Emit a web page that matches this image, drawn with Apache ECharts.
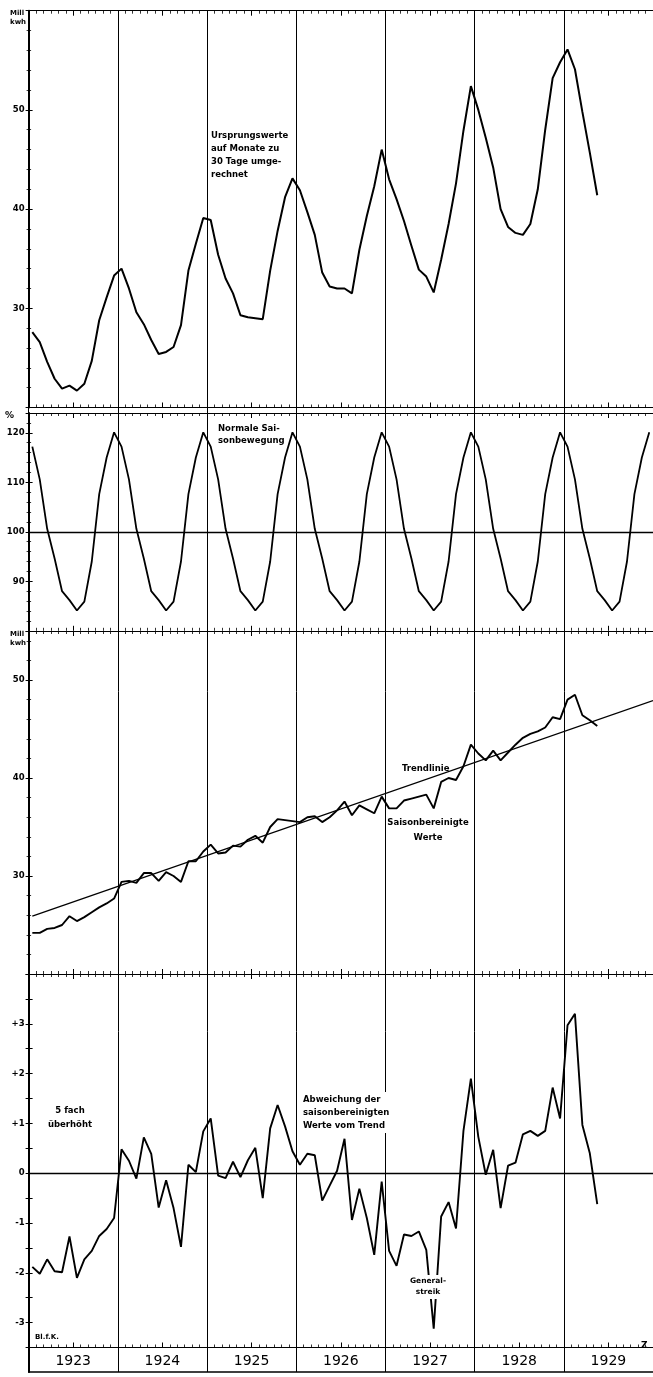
<!DOCTYPE html>
<html><head><meta charset="utf-8">
<script src="https://cdn.jsdelivr.net/npm/echarts@6/dist/echarts.min.js"></script>
<style>html,body{margin:0;padding:0;background:#fff}#c{width:653px;height:1377px}</style>
</head><body><div id="c"></div>
<script>
// ---- DATA (monthly, Jan 1923 = month 0) ----
const years = ['1923','1924','1925','1926','1927','1928','1929'];

// Panel 1: Ursprungswerte (Mill kwh, Monate zu 30 Tagen)
const originalValues = [
  27.6, 26.6, 24.6, 22.9, 21.9, 22.2, 21.7, 22.4, 24.7, 28.8, 31.1, 33.3,
  34.0, 32.0, 29.6, 28.4, 26.8, 25.4, 25.6, 26.1, 28.3, 33.8, 36.5, 39.1,
  38.9, 35.4, 33.0, 31.5, 29.3, 29.1, 29.0, 28.9, 33.8, 37.8, 41.2, 43.1,
  41.9, 39.7, 37.4, 33.6, 32.2, 32.0, 32.0, 31.5, 35.9, 39.3, 42.3, 46.0,
  43.0, 41.0, 38.8, 36.3, 33.9, 33.2, 31.6, 34.9, 38.5, 42.6, 47.9, 52.4,
  50.0, 47.2, 44.2, 40.0, 38.2, 37.6, 37.4, 38.5, 42.0, 48.0, 53.2, 54.8,
  56.1, 54.1, 49.8, 45.7, 41.4
];

// Panel 2: Normale Saisonbewegung (%), Jan..Dec
const seasonalFactors = [117.2, 110.6, 100.6, 94.6, 88.0, 86.2, 84.1, 85.9, 94.0, 107.6, 115.0, 120.1];

// Panel 3: Saisonbereinigte Werte (Mill kwh)
const adjustedValues = [
  24.2, 24.2, 24.6, 24.7, 25.0, 25.9, 25.4, 25.8, 26.3, 26.8, 27.2, 27.7,
  29.4, 29.5, 29.3, 30.3, 30.3, 29.5, 30.4, 30.0, 29.4, 31.5, 31.5, 32.5,
  33.2, 32.3, 32.4, 33.1, 33.0, 33.7, 34.1, 33.4, 35.0, 35.8, 35.7, 35.6,
  35.5, 36.0, 36.1, 35.5, 36.0, 36.7, 37.6, 36.2, 37.2, 36.8, 36.4, 38.1,
  36.9, 36.9, 37.7, 37.9, 38.1, 38.3, 36.9, 39.6, 40.0, 39.8, 41.2, 43.4,
  42.5, 41.8, 42.8, 41.8, 42.6, 43.4, 44.1, 44.5, 44.75, 45.15, 46.2, 46.0,
  48.0, 48.5, 46.4, 45.9, 45.3
];

// Trendlinie: start and end (month, value)
const trendMonths = [0.5, 84];
const trendValues = [25.9, 47.9];

// Panel 4: Abweichung der saisonbereinigten Werte vom Trend (5fach überhöht)
const deviationValues = [
  -1.88, -2.02, -1.73, -1.97, -1.99, -1.27, -2.10, -1.73, -1.56, -1.26, -1.12, -0.90,
  0.48, 0.25, -0.11, 0.72, 0.39, -0.69, -0.14, -0.70, -1.48, 0.17, 0.02, 0.84,
  1.10, -0.05, -0.10, 0.23, -0.08, 0.26, 0.51, -0.50, 0.90, 1.37, 0.94, 0.44,
  0.17, 0.39, 0.36, -0.55, -0.25, 0.05, 0.69, -0.94, -0.31, -0.90, -1.64, -0.17,
  -1.56, -1.86, -1.23, -1.26, -1.17, -1.54, -3.12, -0.87, -0.58, -1.11, 0.85, 1.90,
  0.73, -0.03, 0.47, -0.70, 0.15, 0.21, 0.78, 0.85, 0.75, 0.85, 1.72, 1.10,
  2.97, 3.20, 0.97, 0.40, -0.62
];

// Tick labels
const ticks1 = [30, 40, 50];
const ticks2 = [90, 100, 110, 120];
const ticks3 = [30, 40, 50];
const ticks4 = [-3, -2, -1, 0, 1, 2, 3];

// ---- BUILD ----
const toPts = arr => arr.map((v, i) => [i + 0.5, v]);
const seasonalSeries = [];
years.forEach((y, yi) => seasonalFactors.forEach((v, m) => seasonalSeries.push([yi * 12 + m + 0.5, v])));
const trendSeries = trendMonths.map((m, i) => [m, trendValues[i]]);

const FONT = 'DejaVu Sans';
const L = 28.6, R = -2.1;
const grids = [
  {left: L, right: R, top: 10.7, height: 396.8},
  {left: L, right: R, top: 413, height: 217.8},
  {left: L, right: R, top: 631, height: 343},
  {left: L, right: R, top: 974, height: 373.5},
  {left: L, right: R, top: 1347.5, height: 24.5},
  {left: L, right: R, top: 10.7, height: 1361.3}
];

function monthAxis(gi, pos) {
  return {type: 'value', gridIndex: gi, position: pos, min: 0, max: 84, interval: 6,
    axisLine: {show: true, onZero: false, lineStyle: {color: '#000', width: 1.2}},
    axisTick: {show: true, inside: true, length: 5, lineStyle: {color: '#000', width: 1}},
    minorTick: {show: true, splitNumber: 6, length: 3, lineStyle: {color: '#000', width: 0.8}},
    axisLabel: {show: false}, splitLine: {show: false}};
}
function fmt4(v) { return v > 0 ? '+' + v : (v < 0 ? '-' + Math.abs(v) : '0'); }
function valAxis(gi, min, max, interval, labels, minorSplit, f) {
  return {type: 'value', gridIndex: gi, position: 'left', min, max, interval,
    axisLine: {show: true, onZero: false, lineStyle: {color: '#000', width: 2}},
    axisTick: {show: true, inside: true, length: 4, lineStyle: {color: '#000', width: 1}},
    minorTick: {show: !!minorSplit, splitNumber: minorSplit || 2, length: 2.5, lineStyle: {color: '#000', width: 0.8}},
    splitLine: {show: false},
    axisLabel: {show: true, margin: 4, color: '#000', fontFamily: FONT, fontWeight: 'bold', fontSize: 8.5,
      formatter: v => labels.some(l => Math.abs(l - v) < 1e-6) ? (f ? f(Math.round(v)) : String(Math.round(v))) : ''}};
}
function rightAxis(gi, min, max, interval, minorSplit) {
  return {type: 'value', gridIndex: gi, position: 'right', min, max, interval,
    axisLine: {show: false}, axisLabel: {show: false}, splitLine: {show: false},
    axisTick: {show: true, inside: true, length: 3, lineStyle: {color: '#000', width: 1}},
    minorTick: {show: !!minorSplit, splitNumber: minorSplit || 2, length: 2, lineStyle: {color: '#000', width: 0.8}}};
}

const xAxes = [
  monthAxis(0, 'bottom'), monthAxis(0, 'top'),
  monthAxis(1, 'bottom'), monthAxis(1, 'top'),
  monthAxis(2, 'bottom'), monthAxis(2, 'top'),
  monthAxis(3, 'bottom'), monthAxis(3, 'top'),
  {type: 'category', gridIndex: 4, data: years, boundaryGap: true, position: 'bottom',
    axisLine: {show: true, lineStyle: {color: '#000', width: 1.5}}, axisTick: {show: false},
    axisLabel: {inside: true, margin: 4, color: '#000', fontSize: 14, fontFamily: FONT}, splitLine: {show: false}},
  {type: 'value', gridIndex: 5, min: 0, max: 84, interval: 12, axisLine: {show: false}, axisTick: {show: false},
    axisLabel: {show: false}, splitLine: {show: true, lineStyle: {color: '#000', width: 1}}}
];
const yAxes = [
  valAxis(0, 20, 60, 10, ticks1, 5), rightAxis(0, 20, 60, 10, 5),
  valAxis(1, 80, 124, 10, ticks2, 5), rightAxis(1, 80, 124, 10, 5),
  valAxis(2, 20, 55, 10, ticks3, 5), rightAxis(2, 20, 55, 10, 5),
  valAxis(3, -3.5, 4, 0.5, ticks4, 0, fmt4), rightAxis(3, -3.5, 4, 0.5, 0),
  {type: 'value', gridIndex: 4, min: 0, max: 1, axisLine: {show: true, lineStyle: {color: '#000', width: 2}},
    axisTick: {show: false}, axisLabel: {show: false}, splitLine: {show: false}},
  {type: 'value', gridIndex: 5, min: 0, max: 1, show: false}
];

const lineBase = {type: 'line', symbol: 'none', showSymbol: false, smooth: false, silent: true, animation: false};
const series = [
  Object.assign({}, lineBase, {name: 'Ursprungswerte', xAxisIndex: 0, yAxisIndex: 0, data: toPts(originalValues),
    lineStyle: {color: '#000', width: 2}}),
  Object.assign({}, lineBase, {name: 'Saison', xAxisIndex: 2, yAxisIndex: 2, data: seasonalSeries,
    lineStyle: {color: '#000', width: 1.8},
    markLine: {silent: true, symbol: ['none', 'none'], label: {show: false}, animation: false,
      lineStyle: {color: '#000', width: 1.3, type: 'solid'}, data: [{yAxis: 100}]}}),
  Object.assign({}, lineBase, {name: 'Saisonbereinigt', xAxisIndex: 4, yAxisIndex: 4, data: toPts(adjustedValues),
    lineStyle: {color: '#000', width: 1.9}}),
  Object.assign({}, lineBase, {name: 'Trend', xAxisIndex: 4, yAxisIndex: 4, data: trendSeries,
    lineStyle: {color: '#000', width: 1.3}}),
  Object.assign({}, lineBase, {name: 'Abweichung', xAxisIndex: 6, yAxisIndex: 6, data: toPts(deviationValues),
    lineStyle: {color: '#000', width: 1.9},
    markLine: {silent: true, symbol: ['none', 'none'], label: {show: false}, animation: false,
      lineStyle: {color: '#000', width: 1.3, type: 'solid'}, data: [{yAxis: 0}]}})
];

function txt(x, y, text, o) {
  return {type: 'text', x, y, z: 100, silent: true,
    style: Object.assign({text, fill: '#000', font: 'bold 8.5px "DejaVu Sans"', align: 'left', verticalAlign: 'top', lineHeight: 13}, o || {})};
}
const graphics = [
  txt(10, 9, 'Mill\nkwh', {font: 'bold 7px "DejaVu Sans"', lineHeight: 9}),
  txt(211, 129, 'Ursprungswerte\nauf Monate zu\n30 Tage umge-\nrechnet', {lineHeight: 13}),
  txt(5, 409, '%', {font: 'bold 9px "DejaVu Sans"'}),
  txt(218, 423, 'Normale Sai-\nsonbewegung', {lineHeight: 12}),
  txt(10, 630, 'Mill\nkwh', {font: 'bold 7px "DejaVu Sans"', lineHeight: 9}),
  txt(402, 762, 'Trendlinie'),
  txt(428, 815, 'Saisonbereinigte\nWerte', {align: 'center', lineHeight: 15}),
  txt(70, 1104, '5 fach\nüberhöht', {align: 'center', lineHeight: 14}),
  txt(302, 1092, 'Abweichung der\nsaisonbereinigten\nWerte vom Trend', {lineHeight: 13, backgroundColor: '#fff', padding: [1, 1, 1, 1]}),
  txt(428, 1275, 'General-\nstreik', {align: 'center', font: 'bold 7.5px "DejaVu Sans"', lineHeight: 11, backgroundColor: '#fff', padding: [1, 2, 1, 2]}),
  txt(35, 1331, 'Bl.f.K.', {font: 'bold 7px "DejaVu Sans"'}),
  txt(641, 1339, 'Z', {font: 'bold 9px "DejaVu Sans"'})
];

const chart = echarts.init(document.getElementById('c'), null, {renderer: 'canvas'});
chart.setOption({
  backgroundColor: '#fff',
  animation: false,
  textStyle: {fontFamily: FONT},
  grid: grids,
  xAxis: xAxes,
  yAxis: yAxes,
  series: series,
  graphic: graphics
});
</script></body></html>
